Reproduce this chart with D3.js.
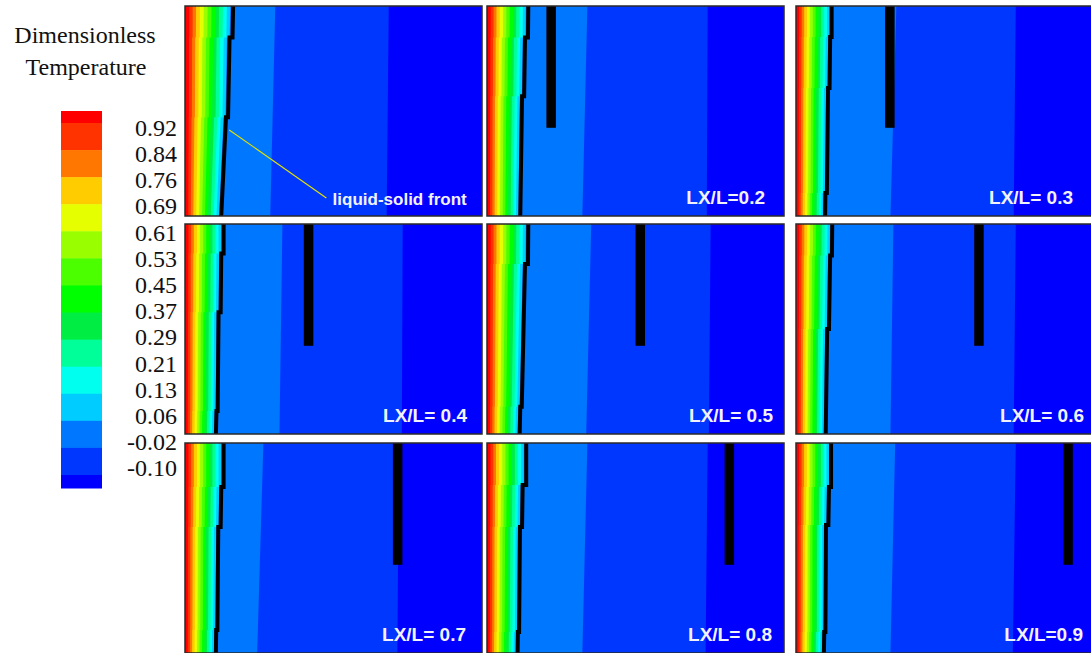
<!DOCTYPE html>
<html>
<head>
<meta charset="utf-8">
<script src="https://cdn.jsdelivr.net/npm/d3@7"></script>
<style>
  html, body { margin: 0; padding: 0; background: #fff; overflow: hidden; }
  svg { display: block; }
</style>
</head>
<body>
<svg id="fig" width="1091" height="653"></svg>
<script>
// Contour levels of the dimensionless temperature (legend ticks, top to bottom)
const levels = [0.92, 0.84, 0.76, 0.69, 0.61, 0.53, 0.45, 0.37, 0.29, 0.21, 0.13, 0.06, -0.02, -0.10];
// Fill colour of each band, hottest first (one band more than there are levels)
const bandColors = ["#ff0000", "#ff3300", "#ff7700", "#ffcc00", "#e5ff00", "#99ff00", "#4cff00",
                    "#00ff00", "#00ee44", "#00ff99", "#00ffee", "#00ccff", "#0077ff", "#0037ff", "#0000ff"];

// Fin position LX/L of each snapshot (first snapshot has no fin)
const finLX = [null, 0.2, 0.3, 0.4, 0.5, 0.6, 0.7, 0.8, 0.9];
const panelLabels = ["", "LX/L=0.2", "LX/L= 0.3", "LX/L= 0.4", "LX/L= 0.5", "LX/L= 0.6",
                     "LX/L= 0.7", "LX/L= 0.8", "LX/L=0.9"];
// Fin length (fraction of cavity height) and thickness (fraction of cavity length)
const finLength = 0.58;
const finThickness = 0.032;

// Liquid-solid front of each snapshot: [y/H, x/L] vertices from top to bottom
const fronts = [
  [[0, 0.162], [0.15, 0.160], [0.15, 0.150], [0.53, 0.145], [0.53, 0.138], [1, 0.122]],
  [[0, 0.139], [0.15, 0.138], [0.15, 0.128], [0.43, 0.125], [0.43, 0.118], [1, 0.112]],
  [[0, 0.120], [0.148, 0.120], [0.148, 0.115], [0.39, 0.113], [0.39, 0.108], [0.89, 0.104], [0.89, 0.099], [1, 0.098]],
  [[0, 0.130], [0.14, 0.130], [0.14, 0.122], [0.42, 0.120], [0.42, 0.113], [0.89, 0.110], [0.89, 0.106], [1, 0.104]],
  [[0, 0.139], [0.19, 0.138], [0.19, 0.128], [0.87, 0.117], [0.87, 0.112], [1, 0.110]],
  [[0, 0.122], [0.15, 0.121], [0.15, 0.115], [0.50, 0.111], [0.50, 0.105], [1, 0.100]],
  [[0, 0.130], [0.21, 0.130], [0.21, 0.122], [0.40, 0.120], [0.40, 0.112], [0.89, 0.109], [0.89, 0.105], [1, 0.104]],
  [[0, 0.132], [0.20, 0.132], [0.20, 0.120], [0.40, 0.118], [0.40, 0.111], [0.90, 0.108], [0.90, 0.104], [1, 0.103]],
  [[0, 0.118], [0.21, 0.118], [0.21, 0.111], [0.39, 0.109], [0.39, 0.101], [0.90, 0.099], [0.90, 0.095], [1, 0.094]]
];

// Isotherms 0.92 ... 0.06 inside the melt, as a fraction of the wall-to-front distance
const liquidIsotherms = [0.09, 0.16, 0.23, 0.31, 0.39, 0.47, 0.55, 0.63, 0.71, 0.79, 0.87, 0.94];

// Isotherms in the solid (x/L at the top and at the bottom of the cavity)
const iso002Top = [0.304, 0.338, 0.338, 0.328, 0.351, 0.328, 0.264, 0.338, 0.334];
const iso002Bot = [0.287, 0.321, 0.318, 0.318, 0.334, 0.318, 0.243, 0.321, 0.318];
const iso010Top = [0.686, 0.743, 0.740, 0.733, 0.753, 0.740, 0.720, 0.743, 0.740];
const iso010Bot = [0.679, 0.740, 0.733, 0.730, 0.747, 0.733, 0.715, 0.736, 0.730];

// ---- layout ----
const layout = { colX: [185, 487, 796], rowY: [6, 224, 443], W: 297, H: 210 };
const labelInset = [0, 19, 20, 15, 11, 9, 16, 12, 10];

const svg = d3.select("#fig");
const defs = svg.append("defs");

finLX.forEach((lx, i) => {
  const x0 = layout.colX[i % 3], y0 = layout.rowY[Math.floor(i / 3)];
  const x = d3.scaleLinear().domain([0, 1]).range([x0, x0 + layout.W]);
  const y = d3.scaleLinear().domain([0, 1]).range([y0, y0 + layout.H]);

  const clipId = "cavity" + i;
  defs.append("clipPath").attr("id", clipId)
    .append("rect").attr("x", x0).attr("y", y0).attr("width", layout.W).attr("height", layout.H);

  const g = svg.append("g").attr("clip-path", `url(#${clipId})`);
  // region between the hot wall and a curve given as [y/H, x/L] vertices
  const region = pts => d3.line().x(d => x(d[1])).y(d => y(d[0]))([[0, 0], ...pts, [1, 0]]) + "Z";

  g.append("rect")
    .attr("x", x0).attr("y", y0).attr("width", layout.W).attr("height", layout.H)
    .attr("fill", bandColors[14]);
  g.append("path").attr("d", region([[0, iso010Top[i]], [1, iso010Bot[i]]])).attr("fill", bandColors[13]);
  g.append("path").attr("d", region([[0, iso002Top[i]], [1, iso002Bot[i]]])).attr("fill", bandColors[12]);

  const front = fronts[i];
  for (let k = liquidIsotherms.length - 1; k >= 0; k--) {
    const iso = front.map(([fy, fx]) => [fy, fx * liquidIsotherms[k]]);
    g.append("path").attr("d", region(iso)).attr("fill", bandColors[k]);
  }

  // liquid-solid front
  g.append("path")
    .attr("d", d3.line().x(d => x(d[1])).y(d => y(d[0]))(front))
    .attr("fill", "none").attr("stroke", "#000").attr("stroke-width", 4)
    .attr("stroke-linejoin", "miter");

  // fin
  if (lx !== null) {
    g.append("rect")
      .attr("x", x(lx)).attr("y", y(0))
      .attr("width", x(lx + finThickness) - x(lx))
      .attr("height", y(finLength) - y(0))
      .attr("fill", "#000");
  }

  if (panelLabels[i]) {
    g.append("text")
      .attr("x", x0 + layout.W - labelInset[i]).attr("y", y0 + layout.H - 12)
      .attr("text-anchor", "end")
      .attr("font-family", "'Liberation Sans', Arial, sans-serif")
      .attr("font-weight", "bold").attr("font-size", 19)
      .attr("fill", "#f2f2ff")
      .text(panelLabels[i]);
  }

  if (i === 0) {
    g.append("line")
      .attr("x1", x(0.149)).attr("y1", y(0.59))
      .attr("x2", x(0.476)).attr("y2", y(0.914))
      .attr("stroke", "#e0e000").attr("stroke-width", 1.2);
    g.append("text")
      .attr("x", x(0.497)).attr("y", y(0.948))
      .attr("font-family", "'Liberation Sans', Arial, sans-serif")
      .attr("font-weight", "bold").attr("font-size", 17)
      .attr("fill", "#f2f2ff")
      .text("liquid-solid front");
  }

  svg.append("rect")
    .attr("x", x0).attr("y", y0).attr("width", layout.W).attr("height", layout.H)
    .attr("fill", "none").attr("stroke", "#2a2a2a").attr("stroke-width", 1.5);
});

// ---- colour legend ----
const legend = svg.append("g");
const serif = "'Liberation Serif', 'Times New Roman', serif";
legend.append("text").attr("x", 85).attr("y", 43).attr("text-anchor", "middle")
  .attr("font-family", serif).attr("font-size", 24).attr("fill", "#111").text("Dimensionless");
legend.append("text").attr("x", 86).attr("y", 75).attr("text-anchor", "middle")
  .attr("font-family", serif).attr("font-size", 24).attr("fill", "#111").text("Temperature");

const barX = 61, barW = 41, barTop = 111, barBottom = 488;
const edgeY = d3.scaleLinear().domain([0, levels.length - 1]).range([123, 475]);
const tickY = d3.scaleLinear().domain([0, levels.length - 1]).range([127.5, 468]);

bandColors.forEach((c, k) => {
  const top = k === 0 ? barTop : edgeY(k - 1);
  const bottom = k === levels.length ? barBottom : edgeY(k);
  legend.append("rect")
    .attr("x", barX).attr("y", top).attr("width", barW).attr("height", bottom - top + 0.5)
    .attr("fill", c);
});

legend.selectAll("text.tick")
  .data(levels)
  .join("text")
  .attr("class", "tick")
  .attr("x", 177).attr("y", (d, k) => tickY(k))
  .attr("dy", "0.35em")
  .attr("text-anchor", "end")
  .attr("font-family", serif).attr("font-size", 24).attr("fill", "#111")
  .text(d => d.toFixed(2));
</script>
</body>
</html>
